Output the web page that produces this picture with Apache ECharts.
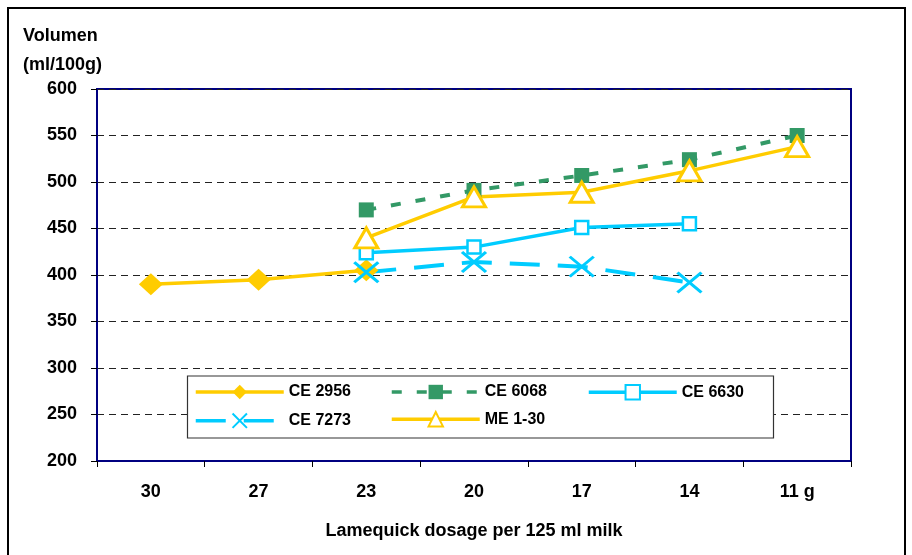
<!DOCTYPE html>
<html>
<head>
<meta charset="utf-8">
<script src="https://cdn.jsdelivr.net/npm/echarts@6/dist/echarts.min.js"></script>
<style>
html,body{margin:0;padding:0;background:#fff;}
#chart{width:912px;height:555px;}
</style>
</head>
<body>
<div id="chart"></div>
<script>
var categories = ['30', '27', '23', '20', '17', '14', '11 g'];
var ce2956 = [390, 395, 405, null, null, null, null];
var ce6068 = [null, null, 470, 491, 507, 524, 550];
var ce6630 = [null, null, 424, 430, 451, 455, null];
var ce7273 = [null, null, 403, 414, 409, 392, null];
var me130  = [null, null, 440, 484, 489, 512, 538];
var seriesNames = ['CE 2956', 'CE 6068', 'CE 6630', 'CE 7273', 'ME 1-30'];
var yTitle = ['Volumen', '(ml/100g)'];
var xTitle = 'Lamequick dosage per 125 ml milk';

var FONT = '"Liberation Sans", Arial, sans-serif';
var YELLOW = '#FFCC00', GREEN = '#339966', CYAN = '#00CCFF', NAVY = '#000080';

// legend slots: 3 columns, 2 rows
var legendLeft = [194, 390, 587];
var legendTop = [384, 411];
var legends = seriesNames.map(function (n, i) {
  return {
    left: legendLeft[i % 3], top: legendTop[Math.floor(i / 3)],
    padding: 0, itemWidth: 88, itemHeight: 18, itemGap: 0, z: 5,
    lineStyle: { width: 3.5 },
    textStyle: { fontFamily: FONT, fontWeight: 'bold', fontSize: 16, color: '#000' },
    data: [n]
  };
});

var chart = echarts.init(document.getElementById('chart'));
chart.setOption({
  animation: false,
  backgroundColor: '#fff',
  graphic: [
    { type: 'rect', shape: { x: 8, y: 8, width: 897, height: 570 },
      style: { fill: 'none', stroke: '#000', lineWidth: 2 }, z: 0 },
    { type: 'rect', shape: { x: 187.5, y: 376, width: 586, height: 62 },
      style: { fill: '#fff', stroke: '#333', lineWidth: 1.2 }, z: 3 },
    { type: 'text', left: 23, top: 22,
      style: { text: yTitle.join('\n'), fill: '#000', font: 'bold 18px ' + FONT, lineHeight: 29 } }
  ],
  grid: { left: 97, top: 89, right: 61, bottom: 94, show: true, borderColor: NAVY, borderWidth: 2, backgroundColor: 'transparent' },
  legend: legends,
  xAxis: {
    type: 'category', data: categories, boundaryGap: true,
    name: xTitle, nameLocation: 'middle', nameGap: 61,
    nameTextStyle: { fontFamily: FONT, fontWeight: 'bold', fontSize: 18, color: '#000' },
    axisLine: { lineStyle: { color: NAVY, width: 2 } },
    axisTick: { show: true, length: 6, alignWithLabel: false, lineStyle: { color: '#000', width: 1 } },
    axisLabel: { margin: 22, fontFamily: FONT, fontWeight: 'bold', fontSize: 18, color: '#000' },
    splitLine: { show: false }
  },
  yAxis: {
    type: 'value', min: 200, max: 600, interval: 50,
    axisLine: { show: true, lineStyle: { color: NAVY, width: 2 } },
    axisTick: { show: true, length: 6, lineStyle: { color: '#000', width: 1 } },
    axisLabel: { margin: 20, fontFamily: FONT, fontWeight: 'bold', fontSize: 18, color: '#000' },
    splitLine: { show: true, lineStyle: { color: '#222', width: 1, type: [7, 5] } }
  },
  series: [
    { name: seriesNames[0], type: 'line', data: ce2956,
      symbol: 'diamond', symbolSize: [24, 22],
      itemStyle: { color: YELLOW },
      lineStyle: { color: YELLOW, width: 3.5 } },
    { name: seriesNames[1], type: 'line', data: ce6068,
      symbol: 'rect', symbolSize: 15,
      itemStyle: { color: GREEN },
      lineStyle: { color: GREEN, width: 4, type: [10, 15] } },
    { name: seriesNames[2], type: 'line', data: ce6630,
      symbol: 'rect', symbolSize: 13,
      itemStyle: { color: '#fff', borderColor: CYAN, borderWidth: 2.5 },
      lineStyle: { color: CYAN, width: 3.5 } },
    { name: seriesNames[3], type: 'line', data: ce7273,
      symbol: 'path://M0,0L24,20M24,0L0,20', symbolSize: [24, 20],
      itemStyle: { color: 'none', borderColor: CYAN, borderWidth: 3 },
      lineStyle: { color: CYAN, width: 4, type: [30, 18] } },
    { name: seriesNames[4], type: 'line', data: me130,
      symbol: 'triangle', symbolSize: [23, 20],
      itemStyle: { color: '#fff', borderColor: YELLOW, borderWidth: 3 },
      lineStyle: { color: YELLOW, width: 3.5 } }
  ]
});
</script>
</body>
</html>
